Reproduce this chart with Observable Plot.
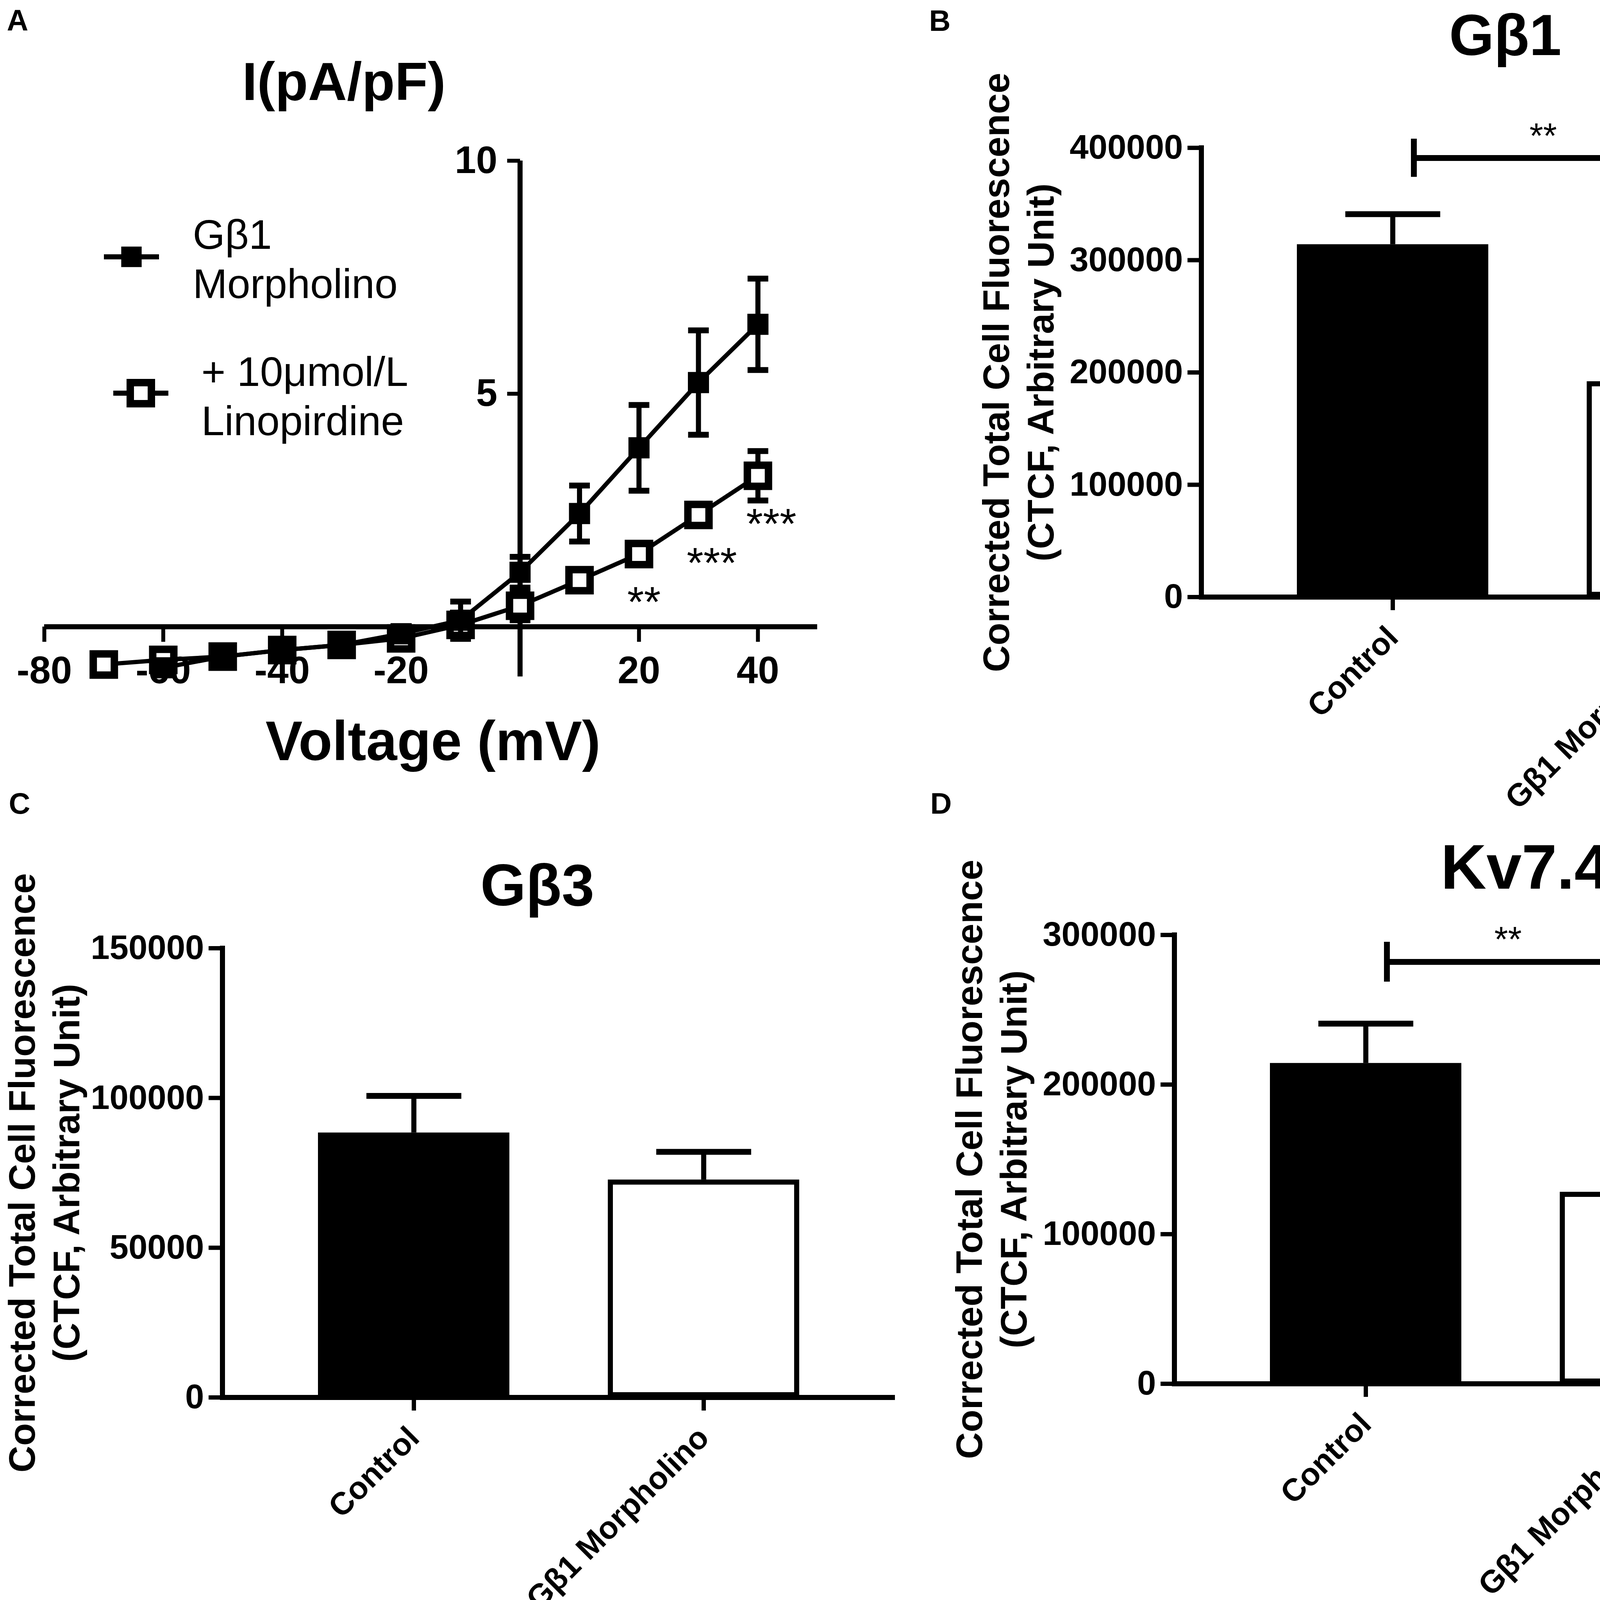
<!DOCTYPE html>
<html><head><meta charset="utf-8">
<script src="https://cdn.jsdelivr.net/npm/d3@7"></script>
<script src="https://cdn.jsdelivr.net/npm/@observablehq/plot@0.6"></script>
<style>
html,body{margin:0;padding:0;background:#fff;}
#fig{position:relative;width:4811px;height:4146px;background:#fff;overflow:hidden;}
.panel{position:absolute;}
.panel svg{overflow:visible;max-width:none !important;background:transparent;}
</style></head><body><div id="fig"></div>
<script>
// ---------- Panel A: I–V relationship ----------
const voltage = [-70,-60,-50,-40,-30,-20,-10,0,10,20,30,40];
const morphVoltage = [-60,-50,-40,-30,-20,-10,0,10,20,30,40];
const morphCurrent = [-0.88,-0.64,-0.50,-0.39,-0.15,0.14,1.17,2.43,3.84,5.24,6.49];
const morphSEM = [0.04,0.04,0.04,0.04,0.05,0.40,0.33,0.60,0.92,1.12,0.98];
const linoCurrent = [-0.81,-0.71,-0.64,-0.50,-0.39,-0.25,0.04,0.45,1.00,1.56,2.40,3.24];
const linoSEM = [0.03,0.03,0.03,0.03,0.03,0.03,0.03,0.31,0.12,0.15,0.18,0.53];
const linoStars = ["","","","","","","","","","**","***","***"];
const xTicksA = [-80,-60,-40,-20,20,40];
const yTicksA = [5,10];
const legendA = ["Gβ1\nMorpholino", "+ 10μmol/L\nLinopirdine"];

// ---------- Panels B, C, D: CTCF bars ----------
const groups = ["Control","Gβ1 Morpholino"];
const gb1Mean = [314000,192000];
const gb1SEM = [27000,26500];
const gb3Mean = [88400,72700];
const gb3SEM = [12300,9300];
const kv74Mean = [214300,128200];
const kv74SEM = [26400,17500];
const yTicksB = [0,100000,200000,300000,400000];
const yTicksC = [0,50000,100000,150000];
const yTicksD = [0,100000,200000,300000];
const yLabel = "Corrected Total Cell Fluorescence\n(CTCF, Arbitrary Unit)";
const sigB = {from:"Control", to:"Gβ1 Morpholino", y:391000, half:17000, label:"**", labelY:400000};
const sigD = {from:"Control", to:"Gβ1 Morpholino", y:282000, half:13300, label:"**", labelY:289000};

const FONT = '"Liberation Sans", Arial, Helvetica, sans-serif';
const hline = {draw(ctx, size){ const r = Math.sqrt(size/Math.PI); ctx.moveTo(-r,0); ctx.lineTo(r,0); }};
const fig = document.getElementById("fig");
function place(svg, left, top){ const d=document.createElement("div"); d.className="panel"; d.style.left=left+"px"; d.style.top=top+"px"; d.appendChild(svg); fig.appendChild(d); }

// ----- Panel A -----
const lino = voltage.map((v,i)=>({v, i: linoCurrent[i], e: linoSEM[i], s: linoStars[i]}));
const morph = morphVoltage.map((v,i)=>({v, i: morphCurrent[i], e: morphSEM[i]}));
const A = Plot.plot({
  width: 2300, height: 2000,
  marginLeft: 113, marginRight: 208, marginTop: 411, marginBottom: 396,
  x: {domain: [-80, 50], axis: null},
  y: {domain: [0, 10], axis: null},
  style: {fontFamily: FONT, color: "black", background: "transparent", overflow: "visible"},
  marks: [
    Plot.ruleY([0], {stroke: "black", strokeWidth: 13}),
    Plot.ruleX([0], {y1: -1.07, y2: 10, stroke: "black", strokeWidth: 13}),
    Plot.axisX({ticks: xTicksA, tickSize: 39, tickPadding: 36, fontSize: 98, fontWeight: "bold", strokeWidth: 10, tickFormat: d => String(d), label: null}),
    Plot.vector(yTicksA, {x: 0, y: d => d, length: 33, rotate: -90, anchor: "start", r: 0, stroke: "black", strokeWidth: 10, strokeLinecap: "butt"}),
    Plot.text(yTicksA, {x: 0, y: d => d, text: d => String(d), textAnchor: "end", dx: -58, fontSize: 98, fontWeight: "bold"}),
    // linopirdine (open squares)
    Plot.ruleX(lino, {x: "v", y1: d => d.i - d.e, y2: d => d.i + d.e, stroke: "black", strokeWidth: 13}),
    Plot.dot(lino, {x: "v", y: d => d.i + d.e, symbol: hline, r: 26.5, fill: "none", stroke: "black", strokeWidth: 15}),
    Plot.dot(lino, {x: "v", y: d => d.i - d.e, symbol: hline, r: 26.5, fill: "none", stroke: "black", strokeWidth: 15}),
    Plot.line(lino, {x: "v", y: "i", stroke: "black", strokeWidth: 11}),
    Plot.dot(lino, {x: "v", y: "i", symbol: "square", r: 30.5, fill: "white", stroke: "black", strokeWidth: 19}),
    // Gβ1 morpholino (filled squares)
    Plot.ruleX(morph, {x: "v", y1: d => d.i - d.e, y2: d => d.i + d.e, stroke: "black", strokeWidth: 13}),
    Plot.dot(morph, {x: "v", y: d => d.i + d.e, symbol: hline, r: 26.5, fill: "none", stroke: "black", strokeWidth: 15}),
    Plot.dot(morph, {x: "v", y: d => d.i - d.e, symbol: hline, r: 26.5, fill: "none", stroke: "black", strokeWidth: 15}),
    Plot.line(morph, {x: "v", y: "i", stroke: "black", strokeWidth: 11}),
    Plot.dot(morph, {x: "v", y: "i", symbol: "square", r: 30.5, fill: "black", stroke: "none"}),
    // significance
    Plot.text(lino.filter(d => d.s), {x: "v", y: "i", text: "s", textAnchor: "start", lineAnchor: "bottom", dx: -30, dy: 160, fontSize: 110}),
    // titles
    Plot.text(["A"], {frameAnchor: "top-left", dx: -96, dy: -334, textAnchor: "start", lineAnchor: "bottom", fontSize: 76, fontWeight: "bold"}),
    Plot.text(["I(pA/pF)"], {frameAnchor: "top-left", dx: 767, dy: -156, textAnchor: "middle", lineAnchor: "bottom", fontSize: 138, fontWeight: "bold"}),
    Plot.text(["Voltage (mV)"], {frameAnchor: "top-left", dx: 995, dy: 1534, textAnchor: "middle", lineAnchor: "bottom", fontSize: 142, fontWeight: "bold"}),
    // legend
    Plot.dot([0], {frameAnchor: "top-left", dx: 223, dy: 246, symbol: hline, r: 70.5, fill: "none", stroke: "black", strokeWidth: 13}),
    Plot.dot([0], {frameAnchor: "top-left", dx: 223, dy: 246, symbol: "square", r: 29.5, fill: "black", stroke: "none"}),
    Plot.dot([0], {frameAnchor: "top-left", dx: 247, dy: 595, symbol: hline, r: 70.5, fill: "none", stroke: "black", strokeWidth: 13}),
    Plot.dot([0], {frameAnchor: "top-left", dx: 247, dy: 595, symbol: "square", r: 30.5, fill: "white", stroke: "black", strokeWidth: 19}),
    Plot.text([legendA[0]], {frameAnchor: "top-left", dx: 380, dy: 351, textAnchor: "start", lineAnchor: "bottom", lineHeight: 1.18, fontSize: 106}),
    Plot.text([legendA[1]], {frameAnchor: "top-left", dx: 402, dy: 702, textAnchor: "start", lineAnchor: "bottom", lineHeight: 1.18, fontSize: 106})
  ]
});
place(A, 0, 0);

// ----- Bar panels -----
function barPanel(o){
  const rows = groups.map((g,i)=>({group: g, mean: o.means[i], sem: o.sems[i]}));
  const marks = [
    Plot.barY(rows, {x: "group", y: "mean", fill: "group", stroke: "black", strokeWidth: 13, inset: 6.5}),
    Plot.ruleX(rows, {x: "group", y1: "mean", y2: d => d.mean + d.sem, stroke: "black", strokeWidth: 13}),
    Plot.dot(rows, {x: "group", y: d => d.mean + d.sem, symbol: hline, r: 121.5, fill: "none", stroke: "black", strokeWidth: 15}),
    Plot.ruleY([0], {stroke: "black", strokeWidth: 13}),
    Plot.frame({anchor: "left", stroke: "black", strokeWidth: 13}),
    Plot.axisY({ticks: o.yTicks, tickSize: 35, tickPadding: 12, fontSize: 87, fontWeight: "bold", strokeWidth: 11, tickFormat: d => String(d), label: null}),
    Plot.axisX({tickSize: 34, tickPadding: 56, tickRotate: -45, fontSize: 81, fontWeight: "bold", strokeWidth: 11, label: null}),
    Plot.text([yLabel], {frameAnchor: "left", rotate: -90, textAnchor: "middle", lineAnchor: "middle", dx: o.yLabelDx, fontSize: 95, fontWeight: "bold", lineHeight: 1.2}),
    Plot.text([o.title], {frameAnchor: "top-left", dx: o.titleDx, dy: o.titleDy, textAnchor: "middle", lineAnchor: "bottom", fontSize: o.titleSize, fontWeight: "bold"}),
    Plot.text([o.letter], {frameAnchor: "top-left", dx: o.letterDx, dy: o.letterDy, textAnchor: "start", lineAnchor: "bottom", fontSize: 76, fontWeight: "bold"})
  ];
  if (o.sig) {
    const s = o.sig;
    marks.push(
      Plot.ruleY([s], {x1: "from", x2: "to", y: "y", insetLeft: 299, insetRight: 268, stroke: "black", strokeWidth: 15}),
      Plot.ruleX([s], {x: "from", y1: d => d.y - d.half, y2: d => d.y + d.half, dx: 54, stroke: "black", strokeWidth: 15}),
      Plot.ruleX([s], {x: "to", y1: d => d.y - d.half, y2: d => d.y + d.half, dx: -23, stroke: "black", strokeWidth: 15}),
      Plot.text([s], {y: "labelY", text: "label", frameAnchor: "middle", textAnchor: "middle", dx: o.sigDx, lineAnchor: "bottom", fontSize: 90})
    );
  }
  return Plot.plot({
    width: o.width, height: o.height,
    marginLeft: o.ml, marginRight: o.mr, marginTop: o.mt, marginBottom: o.mb,
    x: {domain: groups, paddingInner: 0.34, paddingOuter: 0.33},
    y: {domain: [0, o.yMax]},
    color: {domain: groups, range: ["black", "white"]},
    style: {fontFamily: FONT, color: "black", background: "transparent", overflow: "visible"},
    marks
  });
}

place(barPanel({width: 2511, height: 2150, ml: 775, mr: 14, mt: 378, mb: 622,
  means: gb1Mean, sems: gb1SEM, yMax: 400000, yTicks: yTicksB, yLabelDx: -472,
  title: "Gβ1", titleSize: 148, titleDx: 778, titleDy: -238, letter: "B", letterDx: -697, letterDy: -300, sig: sigB, sigDx: 14}), 2300, 0);

place(barPanel({width: 2300, height: 2146, ml: 569, mr: 9, mt: 427, mb: 569,
  means: gb3Mean, sems: gb3SEM, yMax: 150000, yTicks: yTicksC, yLabelDx: -460,
  title: "Gβ3", titleSize: 150, titleDx: 806, titleDy: -110, letter: "C", letterDx: -547, letterDy: -345}), 0, 2000);

place(barPanel({width: 2511, height: 2146, ml: 706, mr: 83, mt: 393, mb: 604,
  means: kv74Mean, sems: kv74SEM, yMax: 300000, yTicks: yTicksD, yLabelDx: -472,
  title: "Kv7.4", titleSize: 162, titleDx: 898, titleDy: -119, letter: "D", letterDx: -625, letterDy: -311, sig: sigD, sigDx: -7}), 2300, 2000);
</script></body></html>
